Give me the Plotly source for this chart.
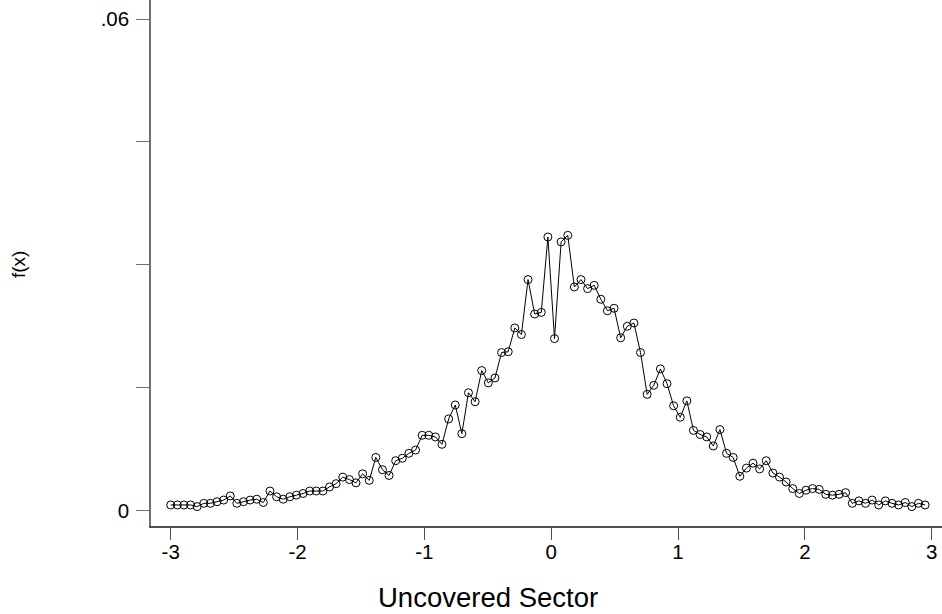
import plotly.graph_objects as go

# ---- data ----
x_start = -3.0
x_step = 6 / 115
n_points = 115
x_vals = [round(x_start + k * x_step, 4) for k in range(n_points)]

f_vals = [
    0.0007, 0.0007, 0.0007, 0.0007, 0.0005, 0.0009, 0.0009, 0.0011, 0.0013, 0.0018,
    0.0009, 0.0011, 0.0013, 0.0014, 0.0010, 0.0024, 0.0017, 0.0014, 0.0017, 0.0019,
    0.0021, 0.0024, 0.0024, 0.0024, 0.0029, 0.0033, 0.0041, 0.0038, 0.0034, 0.0045,
    0.0037, 0.0065, 0.0050, 0.0043, 0.0061, 0.0064, 0.0070, 0.0074, 0.0092, 0.0092,
    0.0090, 0.0081, 0.0112, 0.0129, 0.0094, 0.0144, 0.0133, 0.0171, 0.0156, 0.0162,
    0.0193, 0.0194, 0.0223, 0.0215, 0.0282, 0.0240, 0.0242, 0.0334, 0.0210, 0.0328,
    0.0336, 0.0273, 0.0282, 0.0271, 0.0275, 0.0258, 0.0244, 0.0247, 0.0211, 0.0225,
    0.0229, 0.0193, 0.0142, 0.0153, 0.0173, 0.0155, 0.0128, 0.0114, 0.0134, 0.0098,
    0.0093, 0.0090, 0.0079, 0.0099, 0.0070, 0.0065, 0.0042, 0.0052, 0.0058, 0.0051,
    0.0061, 0.0046, 0.0041, 0.0035, 0.0027, 0.0021, 0.0025, 0.0027, 0.0026, 0.0020,
    0.0019, 0.0020, 0.0022, 0.0009, 0.0012, 0.0009, 0.0013, 0.0007, 0.0012, 0.0009,
    0.0007, 0.0010, 0.0005, 0.0009, 0.0007,
]

x_ticks = [-3, -2, -1, 0, 1, 2, 3]
x_tick_labels = ["-3", "-2", "-1", "0", "1", "2", "3"]
y_ticks = [0, 0.015, 0.03, 0.045, 0.06]
y_tick_labels = ["0", "", "", "", ".06"]

x_title = "Uncovered Sector"
y_title = "f(x)"

# ---- figure ----
W, H = 942, 614
L, R, T, B = 151, 0, 0, 88
PW, PH = W - L - R, H - T - B

FONT = "Liberation Sans, Arial, Helvetica, sans-serif"
AXC = "#707070"

fig = go.Figure()
fig.add_trace(go.Scatter(
    x=x_vals, y=f_vals, mode="lines+markers",
    line=dict(color="black", width=1),
    marker=dict(symbol="circle-open", size=8, color="black",
                line=dict(color="black", width=1)),
    hoverinfo="x+y", showlegend=False,
))

fig.update_layout(
    width=W, height=H,
    margin=dict(l=L, r=R, t=T, b=B, pad=0),
    paper_bgcolor="white", plot_bgcolor="white",
    font=dict(family=FONT, color="black"),
    xaxis=dict(
        range=[-3.1553, 3.0812], tickvals=x_ticks, ticktext=x_tick_labels,
        showgrid=False, zeroline=False, showline=True, linecolor="#505050", linewidth=1.5,
        ticks="outside", ticklen=12, tickwidth=1.2, tickcolor="#505050",
        tickfont=dict(size=20.5, family=FONT, color="black"),
        ticklabelstandoff=-5,
    ),
    yaxis=dict(
        range=[-0.001867, 0.062318], tickvals=y_ticks, ticktext=y_tick_labels,
        showgrid=False, zeroline=False, showline=True, linecolor=AXC, linewidth=1.5,
        ticks="outside", ticklen=13, tickwidth=1.2, tickcolor=AXC,
        tickfont=dict(size=20.5, family=FONT, color="black"),
        ticklabelstandoff=3,
    ),
    annotations=[
        dict(text=x_title, xref="paper", yref="paper",
             x=(488 - L) / PW, y=(PH - (597 - T)) / PH,
             xanchor="center", yanchor="middle", showarrow=False,
             font=dict(size=27.5, family=FONT, color="black")),
        dict(text=y_title, xref="paper", yref="paper",
             x=(19 - L) / PW, y=(PH - (265 - T)) / PH, textangle=-90,
             xanchor="center", yanchor="middle", showarrow=False,
             font=dict(size=19, family=FONT, color="black")),
    ],
)

fig.write_html(
    "out.html",
    config={"displayModeBar": False},
    post_script="document.body.style.margin='0';document.body.style.overflow='hidden';",
)
